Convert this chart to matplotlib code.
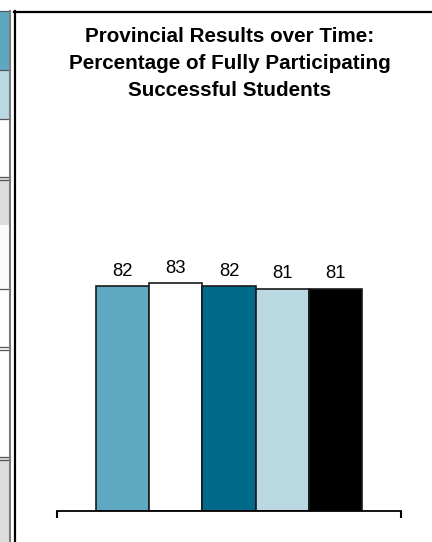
import matplotlib
matplotlib.use('Agg')
import matplotlib.pyplot as plt
from matplotlib.patches import Rectangle
from matplotlib.lines import Line2D
import numpy as np

plt.rcParams['font.family'] = ['Liberation Sans', 'DejaVu Sans']

# данные
years = ['Year 1', 'Year 2', 'Year 3', 'Year 4', 'Year 5']
percent = [82, 83, 82, 81, 81]
bar_colors = ['#5fa8c1', '#ffffff', '#006a8a', '#b9d8e2', '#000000']
title_lines = ['Provincial Results over Time:',
               'Percentage of Fully Participating',
               'Successful Students']

W, H = 432, 542
fig = plt.figure(figsize=(W / 100, H / 100), dpi=100)
fig.patch.set_facecolor('white')


def fx(px):
    return px / W


def fy(py):
    return 1 - py / H


# обрезанная таблица слева
strip = [(11, 70, '#5ca8c0'), (70, 119, '#b8d8e2'), (119, 178, '#fdfdfd'),
         (178, 225, '#dcdcdc'), (225, 289, '#fafafa'), (289, 348, '#fdfdfd'),
         (348, 458, '#fdfdfd'), (458, 542, '#dcdcdc')]
for y0, y1, c in strip:
    fig.patches.append(Rectangle((0, fy(y1)), fx(9.5), (y1 - y0) / H,
                                 transform=fig.transFigure, facecolor=c,
                                 edgecolor='none'))
for yl in [11, 69.5, 119, 177, 179.5, 289, 347, 349.5, 457, 459.5]:
    fig.lines.append(Line2D([0, fx(10)], [fy(yl), fy(yl)], transform=fig.transFigure,
                            color='#555555', lw=0.9))
fig.lines.append(Line2D([fx(9.5), fx(9.5)], [fy(11), 0], transform=fig.transFigure,
                        color='#7a7a7a', lw=1.5))

# рамка графика
fig.lines.append(Line2D([fx(15), fx(15)], [fy(11), 0], transform=fig.transFigure,
                        color='black', lw=1.6))
fig.lines.append(Line2D([fx(14.2), 1], [fy(11.5), fy(11.5)], transform=fig.transFigure,
                        color='black', lw=1.6))

# заголовок
for i, line in enumerate(title_lines):
    fig.text(fx(230), fy(42 + i * 27.2), line, ha='center', va='baseline',
             fontsize=14.9, fontweight='bold', color='black')

ax = fig.add_axes([fx(57), fy(511), fx(401) - fx(57), (511 - 130) / H])
x = np.arange(len(percent))
bars = ax.bar(x, percent, width=1.0, color=bar_colors, edgecolor='#1a1a1a', linewidth=1.2)
ax.bar_label(bars, labels=[f'{v:.0f}' for v in percent], padding=4.5, fontsize=13.3)

ax.set_xlim(-1.233, 5.233)
ax.set_ylim(0, 138.8)
ax.set_facecolor('none')
for s in ['top', 'right', 'left']:
    ax.spines[s].set_visible(False)
ax.spines['bottom'].set_linewidth(1.3)
ax.set_yticks([])
ax.set_xticks([-1.233, 5.233])
ax.set_xticklabels(['', ''])
ax.tick_params(axis='x', direction='out', length=5.2, width=1.5, color='black')

fig.savefig('out.png', dpi=100)
